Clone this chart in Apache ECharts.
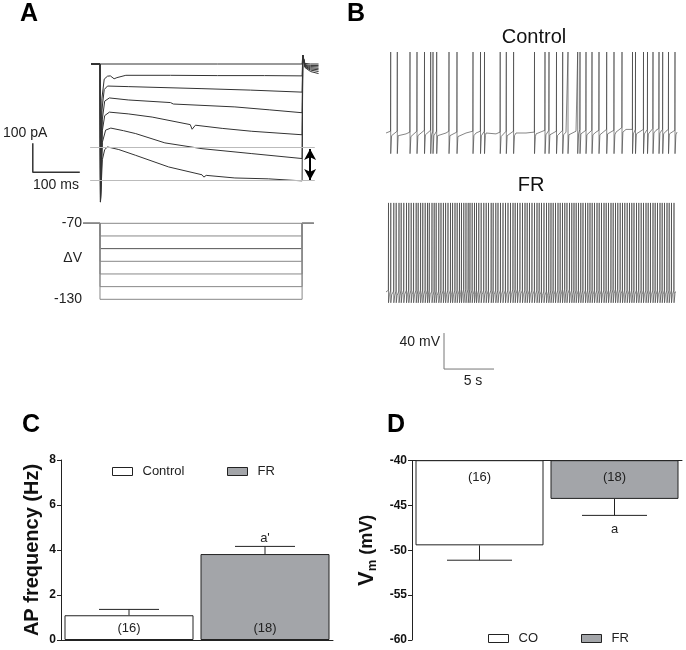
<!DOCTYPE html>
<html><head><meta charset="utf-8">
<script src="https://cdn.jsdelivr.net/npm/echarts@6/dist/echarts.min.js"></script>
<style>html,body{margin:0;padding:0;background:#fff}#c{width:686px;height:650px}</style>
</head><body><div id="c"></div>
<script>
// ---------- Panel A: current traces (time ms, current pA) ----------
const stepLevelsMV = [-70, -80, -90, -100, -110, -120, -130];
const stepOnMs = 0, stepOffMs = 430;
const trace1 = [[-19,0],[100,0],[250,0],[430,0],[431.5,30],[436,2],[448,0],[465,0]];
const trace2 = [[-19,0],[0,0],[1,-476],[4,-120],[9,-52],[16,-42],[22,-41],[30,-51],[36,-47],[55,-39],[150,-39],[250,-40],[350,-40],[430,-41],[431.5,30],[436,-2],[448,-5],[465,-5]];
const trace3 = [[-19,0],[0,0],[1,-476],[4,-160],[9,-88],[16,-76],[60,-78],[217,-85],[320,-90],[430,-97],[431.5,30],[436,-4],[448,-9],[465,-10]];
const trace4 = [[-19,0],[0,0],[1,-476],[5,-190],[10,-128],[20,-117],[60,-124],[150,-133],[156,-138],[287,-148],[360,-158],[430,-168],[431.5,30],[436,-6],[448,-13],[465,-15]];
const trace5 = [[-19,0],[0,0],[1,-476],[5,-230],[10,-178],[20,-166],[60,-172],[111,-183],[192,-209],[196,-225],[203,-211],[260,-222],[323,-232],[430,-244],[431.5,30],[436,-8],[448,-17],[465,-20]];
const trace6 = [[-19,0],[0,0],[1,-476],[5,-270],[12,-228],[23,-221],[50,-230],[76,-240],[138,-272],[141,-278],[217,-292],[323,-309],[430,-326],[431.5,30],[436,-10],[448,-21],[465,-26]];
const trace7 = [[-19,0],[0,0],[1,-476],[5,-330],[10,-295],[16,-286],[40,-295],[76,-315],[146,-355],[217,-382],[221,-390],[226,-384],[287,-393],[358,-396],[430,-403],[431.5,30],[436,-12],[448,-26],[465,-33]];
const currentTraces = [trace1, trace2, trace3, trace4, trace5, trace6, trace7];
const refPeakPA = -288, refSteadyPA = -402;
const arrowTimeMs = 447;
const scaleA = {t: -143, i: -373, dt: 100, di: 100};

// ---------- Panel B: spike trains (time s, mV) ----------
const controlSpikes = [0.47,1.13,2.40,3.10,3.85,4.47,4.70,5.07,6.30,7.10,8.70,9.45,9.85,11.42,12.03,12.76,14.85,15.90,16.30,17.05,17.67,18.20,19.17,19.40,20.00,20.60,21.30,22.07,22.80,23.60,24.65,24.95,25.75,26.15,26.70,27.30,27.67,28.25,28.90];
const controlBase = [-50,-50,-51,-50,-49,-50,-50,-51,-50,-50,-50,-51,-50,-50,-50,-51,-49,-50,-49,-48,-49,-49,-48,-49,-46,-48,-48,-47,-48,-49];
const controlPeak = 40, controlTrough = -73, controlEnd = 29.1;
const frSpikes = [0.25,0.48,0.78,1.02,1.30,1.52,1.78,2.05,2.28,2.52,2.76,3.02,3.22,3.46,3.68,3.92,4.15,4.33,4.60,4.82,5.02,5.28,5.50,5.74,5.96,6.20,6.45,6.66,6.90,7.12,7.35,7.55,7.78,8.00,8.22,8.40,8.62,8.85,9.05,9.28,9.52,9.78,10.02,10.25,10.52,10.72,10.98,11.20,11.45,11.70,11.95,12.20,12.45,12.70,12.92,13.15,13.40,13.65,13.90,14.12,14.35,14.60,14.85,15.10,15.32,15.55,15.80,16.05,16.28,16.50,16.72,16.95,17.20,17.42,17.65,17.88,18.10,18.35,18.58,18.80,19.02,19.25,19.48,19.70,19.95,20.18,20.40,20.62,20.85,21.10,21.32,21.55,21.80,22.02,22.25,22.50,22.72,22.95,23.18,23.42,23.65,23.88,24.12,24.35,24.58,24.80,25.05,25.28,25.52,25.75,26.00,26.22,26.45,26.70,26.92,27.15,27.40,27.62,27.85,28.10,28.32,28.55,28.80];
const frBase = [-44,-45,-44,-44,-44,-45,-44,-44,-43,-44,-44,-44,-44,-43,-44,-44,-45,-44,-43,-44,-44,-44,-44,-43,-44,-44,-44,-44,-44,-44];
const frPeak = 55, frTrough = -56, frEnd = 28.9;
const scaleB = {t: 5.8, v: -129.6, dt: 5, dv: 40};

// ---------- Panel C: AP frequency ----------
const groupsC = ['Control', 'FR'];
const meanC = [1.1, 3.82];
const errC = [1.36, 4.16];
const nC = [16, 18];
const sigC = ['', "a'"];
const ticksC = [0, 2, 4, 6, 8];

// ---------- Panel D: Vm ----------
const groupsD = ['CO', 'FR'];
const meanD = [-49.44, -44.26];
const errD = [-51.1, -46.1];
const nD = [16, 18];
const sigD = ['', 'a'];
const ticksD = [-60, -55, -50, -45, -40];

const FONT = '"Liberation Sans", Arial, sans-serif';
const FRGRAY = '#a3a5a9';

function buildSpikeTrain(spikes, base, peak, trough, tEnd) {
  const pts = [];
  for (let i = 0; i < base.length; i++) {
    if (!spikes.some(s => Math.abs(s - i) < 0.15)) pts.push([i, base[i]]);
  }
  spikes.forEach(s => {
    const b = base[Math.min(base.length - 1, Math.round(s))];
    pts.push([s - 0.02, b + 2], [s, peak], [s + 0.002, trough], [s + 0.09, b - 3]);
  });
  pts.push([tEnd, base[base.length - 1]]);
  pts.sort((a, b) => a[0] - b[0]);
  return pts;
}

function errSeries(axisIdx, means, errs, ns, sig, capHalf, sigOff, nVal, nOff) {
  return {
    type: 'custom', xAxisIndex: axisIdx, yAxisIndex: axisIdx, silent: true, z: 5,
    data: means.map((v, i) => [i, v, errs[i]]),
    renderItem: (params, api) => {
      const i = api.value(0);
      const p0 = api.coord([i, api.value(1)]);
      const p1 = api.coord([i, api.value(2)]);
      const pn = api.coord([i, nVal]);
      const children = [
        {type: 'line', shape: {x1: p0[0], y1: p0[1], x2: p1[0], y2: p1[1]}, style: {stroke: '#222', lineWidth: 1}},
        {type: 'line', shape: {x1: p1[0] - capHalf, y1: p1[1], x2: p1[0] + capHalf, y2: p1[1]}, style: {stroke: '#222', lineWidth: 1}},
        {type: 'text', x: pn[0], y: pn[1] + nOff, style: {text: '(' + ns[i] + ')', font: '13px ' + FONT, fill: '#222', textAlign: 'center', textVerticalAlign: 'middle'}}
      ];
      if (sig[i]) children.push({type: 'text', x: p1[0], y: p1[1] + sigOff, style: {text: sig[i], font: '13px ' + FONT, fill: '#222', textAlign: 'center', textVerticalAlign: 'middle'}});
      return {type: 'group', children};
    }
  };
}

const chart = echarts.init(document.getElementById('c'), null, {renderer: 'canvas'});
const hidden = {show: false};
const lineBase = {type: 'line', showSymbol: false, silent: true, animation: false};

const series = [];
currentTraces.forEach((tr, k) => {
  series.push(Object.assign({}, lineBase, {
    name: 'I' + k, xAxisIndex: 0, yAxisIndex: 0, data: tr,
    lineStyle: {color: '#333', width: 1}, z: 3
  }));
});
series[6].markLine = {
  silent: true, symbol: ['none', 'none'], animation: false, label: {show: false},
  lineStyle: {color: '#bbb', width: 1, type: 'solid'},
  data: [
    [{coord: [-21, refPeakPA]}, {coord: [457, refPeakPA]}],
    [{coord: [-21, refSteadyPA]}, {coord: [457, refSteadyPA]}],
    [{coord: [arrowTimeMs, refPeakPA - 5], symbol: 'arrow', symbolSize: [9, 11], lineStyle: {color: '#000', width: 2}},
     {coord: [arrowTimeMs, refSteadyPA + 2], symbol: 'arrow', symbolSize: [9, 11]}]
  ]
};
series.push(Object.assign({}, lineBase, {
  name: 'scaleA', xAxisIndex: 0, yAxisIndex: 0,
  data: [[scaleA.t, scaleA.i + scaleA.di], [scaleA.t, scaleA.i], [scaleA.t + scaleA.dt, scaleA.i]],
  lineStyle: {color: '#333', width: 1.5}
}));
stepLevelsMV.forEach((v, k) => {
  series.push(Object.assign({}, lineBase, {
    name: 'V' + k, xAxisIndex: 1, yAxisIndex: 1, clip: false,
    data: [[-36, -70], [stepOnMs, -70], [stepOnMs, v], [stepOffMs, v], [stepOffMs, -70], [455, -70]],
    lineStyle: {color: (k === 2 ? '#555' : '#888'), width: 1}
  }));
});
series.push(Object.assign({}, lineBase, {
  name: 'ctrlTrace', xAxisIndex: 2, yAxisIndex: 2,
  data: buildSpikeTrain(controlSpikes, controlBase, controlPeak, controlTrough, controlEnd),
  lineStyle: {color: '#333', width: 0.6, join: 'bevel'}
}));
series.push(Object.assign({}, lineBase, {
  name: 'frTrace', xAxisIndex: 3, yAxisIndex: 3,
  data: buildSpikeTrain(frSpikes, frBase, frPeak, frTrough, frEnd),
  lineStyle: {color: '#333', width: 0.6, join: 'bevel'}
}));
series.push(Object.assign({}, lineBase, {
  name: 'scaleB', xAxisIndex: 3, yAxisIndex: 3,
  data: [[scaleB.t, scaleB.v + scaleB.dv], [scaleB.t, scaleB.v], [scaleB.t + scaleB.dt, scaleB.v]],
  lineStyle: {color: '#777', width: 1}
}));
// Panel C bars
series.push({type: 'bar', name: 'Control', xAxisIndex: 4, yAxisIndex: 4, data: [meanC[0], '-'], barWidth: 129, barGap: '-100%',
  itemStyle: {color: '#fff', borderColor: '#222', borderWidth: 1}, silent: true, animation: false});
series.push({type: 'bar', name: 'FR', xAxisIndex: 4, yAxisIndex: 4, data: ['-', meanC[1]], barWidth: 129, barGap: '-100%',
  itemStyle: {color: FRGRAY, borderColor: '#222', borderWidth: 1}, silent: true, animation: false});
series.push(errSeries(4, meanC, errC, nC, sigC, 30, -8, 0, -12));
// Panel D bars
series.push({type: 'bar', name: 'CO', xAxisIndex: 5, yAxisIndex: 5, data: [meanD[0], '-'], barWidth: 128, barGap: '-100%', clip: true,
  itemStyle: {color: '#fff', borderColor: '#222', borderWidth: 1}, silent: true, animation: false});
series.push({type: 'bar', name: 'FR', xAxisIndex: 5, yAxisIndex: 5, data: ['-', meanD[1]], barWidth: 128, barGap: '-100%', clip: true,
  itemStyle: {color: FRGRAY, borderColor: '#222', borderWidth: 1}, silent: true, animation: false});
series.push(errSeries(5, meanD, errD, nD, sigD, 32.5, 14, -40, 16.5));

const boldTick = {fontSize: 12, fontWeight: 'bold', color: '#111', fontFamily: FONT, margin: 5};
const legendCommon = {selectedMode: false, itemWidth: 20, itemHeight: 8, icon: 'rect',
  itemStyle: {borderColor: '#222', borderWidth: 1},
  textStyle: {fontSize: 13, color: '#222', fontFamily: FONT, padding: [0, 0, 0, 5]}};

const option = {
  animation: false,
  textStyle: {fontFamily: FONT},
  grid: [
    {left: 20.1, top: 49.5, width: 299.86, height: 156.6},
    {left: 84, top: 223.3, width: 235.96, height: 76},
    {left: 386, top: 43, width: 300, height: 121.5},
    {left: 386, top: 198.4, width: 300, height: 175.5},
    {left: 61, top: 460, width: 272, height: 180},
    {left: 412, top: 460.7, width: 270, height: 179.3}
  ],
  xAxis: [
    {type: 'value', gridIndex: 0, min: -170, max: 468, show: false},
    {type: 'value', gridIndex: 1, min: -34.04, max: 468, show: false},
    {type: 'value', gridIndex: 2, min: 0, max: 30, show: false},
    {type: 'value', gridIndex: 3, min: 0, max: 30, show: false},
    {type: 'category', gridIndex: 4, data: groupsC, axisLine: {lineStyle: {color: '#222'}}, axisTick: hidden, axisLabel: hidden},
    {type: 'category', gridIndex: 5, data: groupsD, position: 'top', axisLine: {lineStyle: {color: '#222'}}, axisTick: hidden, axisLabel: hidden}
  ],
  yAxis: [
    {type: 'value', gridIndex: 0, min: -490, max: 50, show: false},
    {type: 'value', gridIndex: 1, min: -130, max: -70, axisLine: hidden, axisTick: hidden, splitLine: hidden,
      axisLabel: {customValues: [-130, -97.5, -70], fontSize: 14, color: '#222', margin: 2,
        formatter: v => (v === -97.5 ? 'ΔV' : String(v))}},
    {type: 'value', gridIndex: 2, min: -85, max: 50, show: false},
    {type: 'value', gridIndex: 3, min: -135, max: 60, show: false},
    {type: 'value', gridIndex: 4, min: ticksC[0], max: ticksC[ticksC.length - 1], interval: 2,
      axisLine: {show: true, lineStyle: {color: '#222'}}, axisTick: {show: true, length: 4, lineStyle: {color: '#222'}},
      splitLine: hidden, axisLabel: boldTick,
      name: 'AP frequency (Hz)', nameLocation: 'middle', nameGap: 19,
      nameTextStyle: {fontSize: 20, fontWeight: 'bold', color: '#111', fontFamily: FONT}},
    {type: 'value', gridIndex: 5, min: ticksD[0], max: ticksD[ticksD.length - 1], interval: 5,
      axisLine: {show: true, lineStyle: {color: '#222'}}, axisTick: {show: true, length: 4, lineStyle: {color: '#222'}},
      splitLine: hidden, axisLabel: boldTick,
      name: '{a|V}{b|m}{c| (mV)}', nameLocation: 'middle', nameGap: 33,
      nameTextStyle: {color: '#111', fontFamily: FONT, rich: {
        a: {fontSize: 22, fontWeight: 'bold', color: '#111', lineHeight: 24, fontFamily: FONT},
        b: {fontSize: 13, fontWeight: 'bold', color: '#111', lineHeight: 12, verticalAlign: 'bottom', fontFamily: FONT},
        c: {fontSize: 18, fontWeight: 'bold', color: '#111', lineHeight: 24, fontFamily: FONT}}}}
  ],
  legend: [
    Object.assign({}, legendCommon, {left: 107, top: 460, data: ['Control']}),
    Object.assign({}, legendCommon, {left: 222, top: 460, data: ['FR']}),
    Object.assign({}, legendCommon, {left: 483, top: 627, data: ['CO']}),
    Object.assign({}, legendCommon, {left: 576, top: 627, data: ['FR']})
  ],
  graphic: [
    {type: 'text', x: 20, y: 14, style: {text: 'A', font: 'bold 25px ' + FONT, fill: '#000', textVerticalAlign: 'middle'}},
    {type: 'text', x: 347, y: 14, style: {text: 'B', font: 'bold 25px ' + FONT, fill: '#000', textVerticalAlign: 'middle'}},
    {type: 'text', x: 22, y: 425, style: {text: 'C', font: 'bold 25px ' + FONT, fill: '#000', textVerticalAlign: 'middle'}},
    {type: 'text', x: 387, y: 425, style: {text: 'D', font: 'bold 25px ' + FONT, fill: '#000', textVerticalAlign: 'middle'}},
    {type: 'text', x: 534, y: 37, style: {text: 'Control', font: '20px ' + FONT, fill: '#111', textAlign: 'center', textVerticalAlign: 'middle'}},
    {type: 'text', x: 531, y: 185, style: {text: 'FR', font: '20px ' + FONT, fill: '#111', textAlign: 'center', textVerticalAlign: 'middle'}},
    {type: 'text', x: 3, y: 133, style: {text: '100 pA', font: '14px ' + FONT, fill: '#222', textVerticalAlign: 'middle'}},
    {type: 'text', x: 33, y: 185, style: {text: '100 ms', font: '14px ' + FONT, fill: '#222', textVerticalAlign: 'middle'}},
    {type: 'text', x: 440, y: 342, style: {text: '40 mV', font: '14px ' + FONT, fill: '#222', textAlign: 'right', textVerticalAlign: 'middle'}},
    {type: 'text', x: 473, y: 381, style: {text: '5 s', font: '14px ' + FONT, fill: '#222', textAlign: 'center', textVerticalAlign: 'middle'}}
  ],
  series
};
chart.setOption(option);
</script></body></html>
